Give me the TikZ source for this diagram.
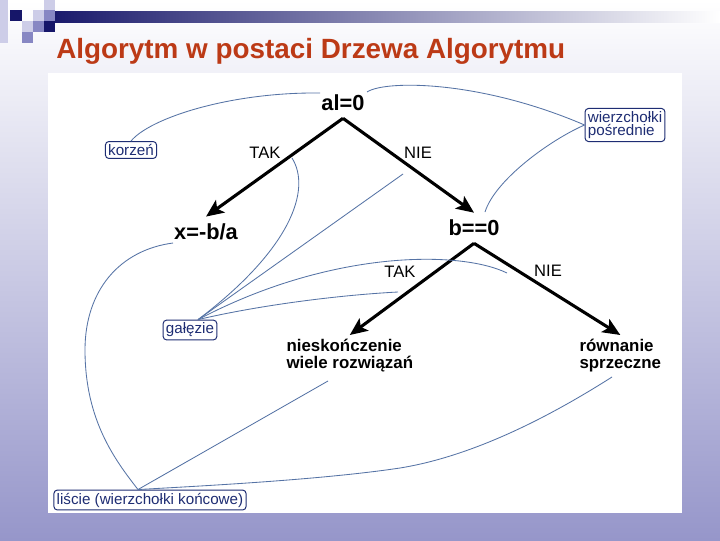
\documentclass[tikz,border=0pt]{standalone}
\usepackage{fontspec}
\setmainfont{Liberation Sans}
\usetikzlibrary{arrows.meta}
\definecolor{SlideNavy}{RGB}{22,22,105}
\definecolor{SlideLav}{RGB}{150,150,202}
\definecolor{SquareMid}{RGB}{135,135,195}
\definecolor{SquareLight}{RGB}{205,205,232}
\definecolor{TitleRed}{RGB}{188,58,22}
\definecolor{TagNavy}{RGB}{30,45,115}
\definecolor{LinkBlue}{RGB}{85,115,165}

\begin{document}
\begin{tikzpicture}[x=0.025cm,y=-0.025cm,
    >={Stealth[length=4.4mm,width=3.8mm,inset=1mm]},
    val/.style={font=\fontsize{15.5}{17}\selectfont\bfseries,inner xsep=1pt,inner ysep=5pt},
    res/.style={font=\fontsize{12}{12}\selectfont\bfseries,align=left,inner sep=3pt,anchor=north west},
    lab/.style={font=\fontsize{11.8}{13}\selectfont,inner sep=0pt},
    tag/.style={draw=TagNavy,text=TagNavy,rounded corners=2.5pt,line width=0.7pt,
                font=\fontsize{10.8}{9.5}\selectfont,inner sep=2pt,align=left},
    branch/.style={->,line width=2.2pt},
    link/.style={draw=LinkBlue,line width=0.6pt}]
  \useasboundingbox (0,0) rectangle (720,540);
  % slide background
  \shade[top color=white,bottom color=SlideLav] (0,0) rectangle (720,540);
  \shade[left color=SlideNavy,right color=white] (40,11) rectangle (720,22);
  \fill[SquareLight] (0,0) rectangle (8,43);
  \fill[SquareLight] (44,0) rectangle (55,10);
  \fill[SlideNavy] (10,10) rectangle (22,21);
  \fill[SquareLight] (33,10) rectangle (44,21);
  \fill[SquareMid] (44,10) rectangle (55,21);
  \fill[SquareLight] (22,21) rectangle (33,32);
  \fill[SquareMid] (33,21) rectangle (44,32);
  \fill[SlideNavy] (44,21) rectangle (55,32);
  \fill[SquareMid] (22,32) rectangle (33,43);
  \node[anchor=base west,text=TitleRed,font=\fontsize{19.8}{22}\selectfont\bfseries,inner sep=0pt]
    (title) at (56,58) {Algorytm w postaci Drzewa Algorytmu};
  \fill[white] (48,73) rectangle (682,513);

  % tree
  \node[val] (root) at (343,103) {al=0};
  \node[val] (xsol) at (206,232) {x=-b/a};
  \node[val] (bzero) at (474,228) {b==0};
  \node[res] (infsol) at (282,335) {nieskończenie\\wiele rozwiązań};
  \node[res] (contra) at (575,335) {równanie\\sprzeczne};
  \foreach \x/\y in {root/xsol,root/bzero,bzero/infsol,bzero/contra}
    \draw[branch] (\x.south) -- (\y.north);
  \node[lab] (tak1) at (265,153) {TAK};
  \node[lab] (nie1) at (418,153) {NIE};
  \node[lab] (tak2) at (400,272) {TAK};
  \node[lab] (nie2) at (548,271) {NIE};

  % annotations
  \node[tag] (korzen) at (131,150) {korzeń};
  \node[tag] (wpos) at (625,125) {wierzchołki\\pośrednie};
  \node[tag] (galezie) at (190,330) {gałęzie};
  \node[tag] (liscie) at (150,500) {liście (wierzchołki końcowe)};
  \path (galezie.north) ++(8,0) coordinate (gt);
  \path (liscie.north) ++(-12,0) coordinate (lt);
  \coordinate (k1) at (320,93);
  \coordinate (w1) at (367,92);
  \coordinate (w2) at (485,212);
  \coordinate (g1) at (292,158);
  \coordinate (g2) at (403,174);
  \coordinate (g3) at (507,273);
  \coordinate (g4) at (398,292);
  \coordinate (l1) at (173,243);
  \coordinate (l2) at (328,381);
  \coordinate (l3) at (612,377);
  \draw[link] (korzen.north) .. controls (150,118) and (230,92) .. (k1);
  \draw[link] (w1) .. controls (385,80) and (480,80) .. (wpos.west);
  \draw[link] (wpos.west) .. controls (550,140) and (495,180) .. (w2);
  \draw[link] (g1) .. controls (312,190) and (290,250) .. (gt);
  \draw[link] (g2) -- (gt);
  \draw[link] (g3) .. controls (460,250) and (330,250) .. (gt);
  \draw[link] (g4) .. controls (340,295) and (260,305) .. (gt);
  \draw[link] (l1) .. controls (120,250) and (85,290) .. (85,350)
    .. controls (85,420) and (115,460) .. (lt);
  \draw[link] (l2) -- (lt);
  \draw[link] (l3) .. controls (560,410) and (480,455) .. (400,468)
    .. controls (320,480) and (200,486) .. (lt);
\end{tikzpicture}
\end{document}
